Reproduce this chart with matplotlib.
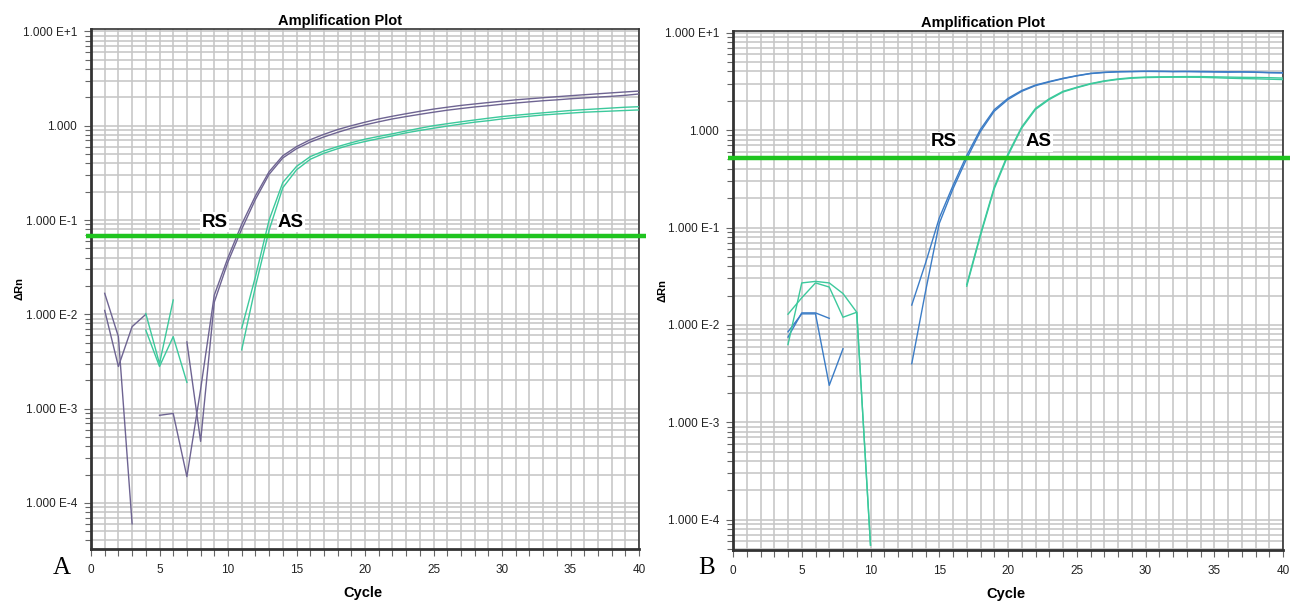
import numpy as np
import matplotlib
matplotlib.use("Agg")
import matplotlib.pyplot as plt
from matplotlib.ticker import FixedLocator, MultipleLocator, LogLocator, NullFormatter

nan = np.nan

cycles = list(range(1, 41))

# panel A: reference strain (RS) and test strain (AS), two wells each
a_rs1 = [0.0167, 0.0058, 6e-5, nan, 0.00085, 0.00089, 0.00019, 0.0016, 0.016, 0.040,
         0.090, 0.180, 0.325, 0.48, 0.60, 0.71, 0.81, 0.91, 1.00, 1.09,
         1.18, 1.26, 1.34, 1.42, 1.50, 1.57, 1.64, 1.70, 1.76, 1.82,
         1.88, 1.93, 1.98, 2.03, 2.08, 2.13, 2.18, 2.23, 2.28, 2.33]
a_rs2 = [0.011, 0.0028, 0.0074, 0.0100, nan, nan, 0.0051, 0.00045, 0.0135, 0.036,
         0.080, 0.165, 0.305, 0.455, 0.57, 0.67, 0.76, 0.85, 0.94, 1.02,
         1.10, 1.18, 1.25, 1.32, 1.39, 1.46, 1.52, 1.58, 1.63, 1.69,
         1.74, 1.79, 1.84, 1.88, 1.93, 1.97, 2.01, 2.05, 2.10, 2.17]
a_as1 = [nan, nan, nan, 0.0102, 0.0030, 0.0142, nan, nan, nan, nan,
         0.0071, 0.025, 0.100, 0.25, 0.37, 0.47, 0.54, 0.60, 0.66, 0.72,
         0.77, 0.82, 0.88, 0.94, 1.00, 1.05, 1.10, 1.15, 1.20, 1.25,
         1.29, 1.33, 1.37, 1.41, 1.45, 1.48, 1.51, 1.54, 1.57, 1.59]
a_as2 = [nan, nan, nan, 0.0068, 0.0028, 0.0058, 0.0019, nan, nan, nan,
         0.0042, 0.0196, 0.078, 0.22, 0.34, 0.44, 0.51, 0.57, 0.63, 0.68,
         0.73, 0.78, 0.84, 0.89, 0.94, 0.99, 1.04, 1.09, 1.13, 1.18,
         1.22, 1.26, 1.30, 1.33, 1.36, 1.39, 1.41, 1.43, 1.45, 1.47]
a_threshold = 0.068

# panel B
b_rs1 = [nan, nan, nan, 0.0075, 0.0133, 0.0133, 0.0117, nan, nan, nan,
         nan, nan, 0.016, 0.043, 0.125, 0.27, 0.55, 1.02, 1.62, 2.12,
         2.55, 2.90, 3.15, 3.40, 3.62, 3.82, 3.92, 3.98, 4.00, 4.02,
         4.02, 4.00, 4.01, 4.00, 3.98, 3.97, 3.96, 3.94, 3.90, 3.88]
b_rs2 = [nan, nan, nan, 0.0085, 0.0130, 0.0130, 0.0024, 0.0057, nan, nan,
         nan, nan, 0.0040, 0.022, 0.11, 0.25, 0.51, 0.97, 1.56, 2.06,
         2.50, 2.86, 3.12, 3.37, 3.60, 3.80, 3.90, 3.96, 3.98, 4.00,
         3.99, 3.98, 3.98, 3.96, 3.95, 3.93, 3.95, 3.92, 3.88, 3.86]
b_as1 = [nan, nan, nan, 0.0063, 0.027, 0.028, 0.027, 0.021, 0.0135, 5.5e-5,
         nan, nan, nan, nan, nan, nan, 0.026, 0.086, 0.26, 0.57,
         1.08, 1.67, 2.10, 2.50, 2.75, 3.00, 3.20, 3.35, 3.45, 3.50,
         3.52, 3.53, 3.54, 3.54, 3.52, 3.50, 3.48, 3.47, 3.45, 3.42]
b_as2 = [nan, nan, nan, 0.0129, 0.019, 0.027, 0.0245, 0.012, 0.0135, 5.5e-5,
         nan, nan, nan, nan, nan, nan, 0.025, 0.083, 0.25, 0.55,
         1.05, 1.63, 2.06, 2.46, 2.72, 2.97, 3.17, 3.31, 3.41, 3.46,
         3.48, 3.49, 3.49, 3.48, 3.45, 3.41, 3.38, 3.36, 3.33, 3.30]
b_threshold = 0.52

ytick_values = [1e-4, 1e-3, 1e-2, 1e-1, 1, 10]
ytick_labels = ["1.000 E-4", "1.000 E-3", "1.000 E-2", "1.000 E-1", "1.000", "1.000 E+1"]
xtick_values = [0, 5, 10, 15, 20, 25, 30, 35, 40]

SANS = ["Liberation Sans", "DejaVu Sans"]
plt.rcParams["font.family"] = SANS

PURPLE = "#6e6492"
TEAL = "#3cc99c"
BLUE = "#3b7cc6"
THRESH = "#1fc41f"


def draw_panel(ax, series, colors, threshold, ylim, rs_pos, as_pos):
    for values, color in zip(series, colors):
        ax.plot(cycles, values, color=color, lw=1.0, zorder=3)

    # threshold line runs a little past both sides of the frame
    ax.plot([-0.33, 40.5], [threshold, threshold], color=THRESH, lw=3.2,
            zorder=4, clip_on=False, solid_capstyle="butt")

    for text, pos in (("RS", rs_pos), ("AS", as_pos)):
        ax.text(pos[0], pos[1], text, fontsize=13.5, fontweight="bold",
                ha="center", va="center", zorder=5,
                bbox=dict(facecolor="white", edgecolor="none", pad=1.0))

    ax.set_yscale("log")
    ax.set_xlim(0, 40)
    ax.set_ylim(*ylim)

    ax.xaxis.set_major_locator(FixedLocator(xtick_values))
    ax.xaxis.set_minor_locator(MultipleLocator(1))
    ax.yaxis.set_major_locator(FixedLocator(ytick_values))
    ax.set_yticklabels(ytick_labels)
    ax.yaxis.set_minor_locator(LogLocator(base=10, subs=np.arange(2, 10)))
    ax.yaxis.set_minor_formatter(NullFormatter())

    ax.grid(which="both", color="#c6c6c6", lw=1.15, zorder=0)
    ax.set_axisbelow(True)
    ax.tick_params(which="both", direction="out", color="#666666", width=0.8,
                   labelsize=8.5, labelcolor="#222222")
    ax.tick_params(axis="x", which="both", length=5, pad=6)
    ax.tick_params(axis="y", which="major", length=5, pad=5)
    ax.tick_params(axis="y", which="minor", length=4)

    for side in ("top", "right"):
        ax.spines[side].set_linewidth(1.2)
        ax.spines[side].set_color("#333333")
    for side in ("left", "bottom"):
        ax.spines[side].set_linewidth(2.0)
        ax.spines[side].set_color("#333333")

    ax.set_title("Amplification Plot", x=0.455, pad=3, fontsize=10.5, fontweight="bold")
    ax.set_xlabel("Cycle", fontsize=10.5, fontweight="bold")
    ax.xaxis.set_label_coords(0.496, -0.071)
    ax.text(-0.13, 0.5, "\u0394Rn", transform=ax.transAxes, rotation=90,
            ha="center", va="center", fontsize=8, fontweight="bold")


fig = plt.figure(figsize=(13.02, 6.02), dpi=100)
ax_a = fig.add_axes([91 / 1302, 53 / 602, 548 / 1302, 520 / 602])
ax_b = fig.add_axes([733 / 1302, 52 / 602, 550 / 1302, 519 / 602])

draw_panel(ax_a, [a_rs1, a_rs2, a_as1, a_as2], [PURPLE, PURPLE, TEAL, TEAL],
           a_threshold, (3.25e-5, 10.6), (9.0, 0.095), (14.6, 0.095))
draw_panel(ax_b, [b_rs1, b_rs2, b_as1, b_as2], [BLUE, BLUE, TEAL, TEAL],
           b_threshold, (4.9e-5, 10.4), (15.35, 0.76), (22.2, 0.76))

ax_b.texts[-1].set_position((-0.128, 0.5))

fig.text(62 / 1302, 1 - 568 / 602, "A", family=["Liberation Serif", "DejaVu Serif"],
         fontsize=18, ha="center", va="center")
fig.text(707 / 1302, 1 - 568 / 602, "B", family=["Liberation Serif", "DejaVu Serif"],
         fontsize=18, ha="center", va="center")

fig.savefig("out.png", dpi=100, facecolor="white")
